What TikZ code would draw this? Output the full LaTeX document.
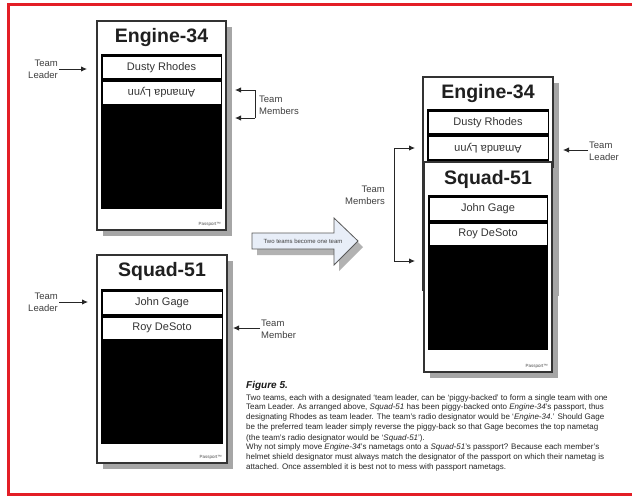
\documentclass[tikz,border=0pt]{standalone}
\usepackage{fontspec}
\setmainfont{Liberation Sans}
\usetikzlibrary{arrows.meta,shadows}
\definecolor{frame}{HTML}{E31E26}
\definecolor{arrfill}{HTML}{E8EEF8}
\begin{document}
\begin{tikzpicture}[x=1pt,y=-1pt,
  card/.style={draw=black!80, line width=2pt, fill=white, inner sep=0pt,
    drop shadow={shadow xshift=6pt, shadow yshift=-6pt, fill=black!35, opacity=1}},
  pocket/.style={fill=black, inner sep=0pt},
  tag/.style={fill=white, inner sep=0pt, text=black!80, font=\fontsize{11}{13}\selectfont},
  title/.style={font=\fontsize{19.5}{22}\selectfont\bfseries, text=black!88, inner sep=0pt},
  lbl/.style={font=\fontsize{9.5}{12}\selectfont, text=black!75, inner sep=1pt},
  pp/.style={font=\fontsize{4.5}{5}\selectfont, text=black!70, inner sep=0pt, anchor=south east},
  arr/.style={-{Latex[length=6pt,width=5.5pt]}, line width=1pt, black!85},
  brk/.style={line width=1pt, black!85}]
\useasboundingbox (0,0) rectangle (632,496);
\fill[white] (0,0) rectangle (632,496);
\draw[frame, line width=3pt] (8,4) rectangle (645,494);

% ---- left card 1: Engine-34
\node[card, minimum width=129pt, minimum height=209pt] (card1) at (161.5,125.5) {};
\node[pocket, minimum width=121pt, minimum height=155pt] (pocket1) at (161.5,131.5) {};
\node[tag, minimum width=118pt, minimum height=21pt] (dusty1) at (161.5,67.5) {Dusty Rhodes};
\node[tag, minimum width=118pt, minimum height=21.5pt, rotate=180] (amanda1) at (161.5,92.75) {Amanda Lynn};
\node[title] (eng1) at (161.5,37) {Engine-34};
\node[pp] (pp1) at (221,227) {Passport™};

% ---- left card 2: Squad-51
\node[card, minimum width=130pt, minimum height=208pt] (card2) at (162,359) {};
\node[pocket, minimum width=122pt, minimum height=155pt] (pocket2) at (162,366.5) {};
\node[tag, minimum width=119pt, minimum height=21.5pt] (john2) at (162,302.75) {John Gage};
\node[tag, minimum width=119pt, minimum height=21.5pt] (roy2) at (162,328.25) {Roy DeSoto};
\node[title] (sq2) at (162,271) {Squad-51};
\node[pp] (pp2) at (222,460) {Passport™};

% ---- right combined card
\node[card, minimum width=130pt, minimum height=213pt] (card3) at (488,183.5) {};
\node[pocket, minimum width=122pt, minimum height=53pt] (pocket3) at (488,135.5) {};
\node[tag, minimum width=119pt, minimum height=21pt] (dusty3) at (488,122.5) {Dusty Rhodes};
\node[tag, minimum width=119pt, minimum height=22pt, rotate=180] (amanda3) at (488,148) {Amanda Lynn};
\node[title] (eng3) at (488,93) {Engine-34};

\node[card, minimum width=128pt, minimum height=210pt] (card4) at (488,267) {};
\node[pocket, minimum width=120pt, minimum height=155pt] (pocket4) at (488,272.5) {};
\node[tag, minimum width=117pt, minimum height=22pt] (john4) at (488,209) {John Gage};
\node[tag, minimum width=117pt, minimum height=21pt] (roy4) at (488,234) {Roy DeSoto};
\node[title] (sq4) at (488,179) {Squad-51};
\node[pp] (pp4) at (548,369) {Passport™};

% ---- labels and connectors, card 1
\node[lbl, align=right, anchor=east] (tl1) at (59,69) {Team\\Leader};
\coordinate (tl1tip) at (87,69);
\draw[arr] (tl1.east) -- (tl1tip);

\node[lbl, align=left, anchor=west] (tm1) at (258,105) {Team\\Members};
\coordinate (bk1a) at (255,90);
\coordinate (bk1b) at (255,118);
\coordinate (bk1ta) at (235,90);
\coordinate (bk1tb) at (235,118);
\draw[brk] (bk1a) -- (bk1b);
\draw[arr] (bk1a) -- (bk1ta);
\draw[arr] (bk1b) -- (bk1tb);

% ---- labels and connectors, card 2
\node[lbl, align=right, anchor=east] (tl2) at (59,302) {Team\\Leader};
\coordinate (tl2tip) at (88,302);
\draw[arr] (tl2.east) -- (tl2tip);

\node[lbl, align=left, anchor=west] (tm2) at (260,329) {Team\\Member};
\coordinate (tm2tip) at (233,328);
\draw[arr] (tm2.west |- tm2tip) -- (tm2tip);

% ---- labels and connectors, right card
\node[lbl, align=right, anchor=east] (tm3) at (386,195) {Team\\Members};
\coordinate (bk3a) at (394,148);
\coordinate (bk3b) at (394,261);
\coordinate (bk3ta) at (415,148);
\coordinate (bk3tb) at (415,261);
\draw[brk] (bk3a) -- (bk3b);
\draw[arr] (bk3a) -- (bk3ta);
\draw[arr] (bk3b) -- (bk3tb);

\node[lbl, align=left, anchor=west] (tl3) at (588,151) {Team\\Leader};
\coordinate (tl3tip) at (563,150);
\draw[arr] (tl3.west |- tl3tip) -- (tl3tip);

% ---- big arrow
\fill[black!30] (257,239) -- (339,239) -- (339,224) -- (363,247) -- (339,271) -- (339,255) -- (257,255) -- cycle;
\draw[fill=arrfill, draw=black!65, line width=0.8pt]
  (252,233) -- (334,233) -- (334,218) -- (358,241) -- (334,265) -- (334,249) -- (252,249) -- cycle;
\node[font=\fontsize{6}{7}\selectfont, text=black!75, inner sep=0pt] (arrtxt) at (303,241) {Two teams become one team};

% ---- caption
\node[anchor=west, inner sep=0pt, font=\fontsize{10}{12}\selectfont\bfseries\itshape, text=black!90] (figlbl) at (246,386) {Figure 5.};
\node[anchor=north west, inner sep=0pt, align=left, text=black!85,
  font=\fontsize{8}{9.7}\selectfont] (caption) at (246,394) {%
Two teams, each with a designated `team leader, can be `piggy-backed' to form a single team with one\\
Team Leader. As arranged above, \textit{Squad-51} has been piggy-backed onto \textit{Engine-34}'s passport, thus\\
designating Rhodes as team leader. The team's radio designator would be `\textit{Engine-34}.' Should Gage\\
be the preferred team leader simply reverse the piggy-back so that Gage becomes the top nametag\\[1.3pt]
(the team's radio designator would be `\textit{Squad-51}').\\
Why not simply move \textit{Engine-34}'s nametags onto a \textit{Squad-51}'s passport? Because each member's\\
helmet shield designator must always match the designator of the passport on which their nametag is\\
attached. Once assembled it is best not to mess with passport nametags.};
\end{tikzpicture}
\end{document}
